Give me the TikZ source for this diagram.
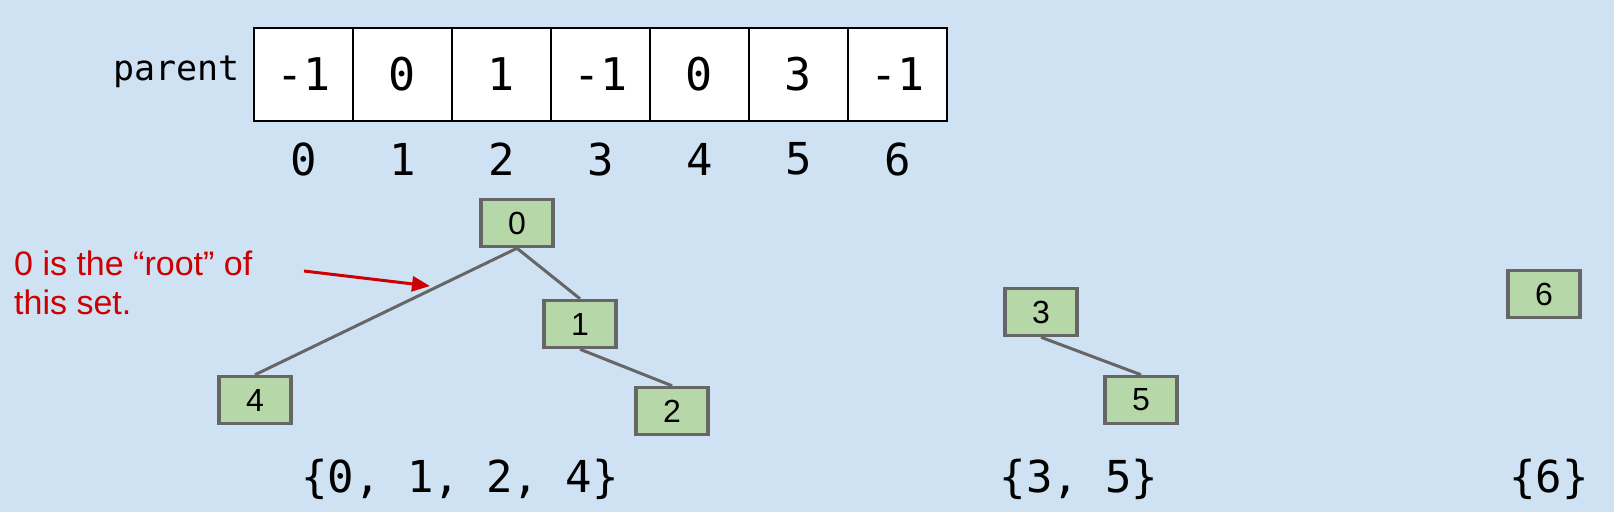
\documentclass[tikz,border=0pt]{standalone}
\usepackage{fontspec}
\setmainfont{Liberation Sans}
\newfontfamily\monofnt{DejaVu Sans Mono}
\usetikzlibrary{arrows.meta}
\definecolor{bgc}{HTML}{CFE2F3}
\definecolor{nodefill}{HTML}{B6D7A8}
\definecolor{edgec}{HTML}{666666}
\definecolor{redc}{HTML}{CC0000}
\begin{document}
\begin{tikzpicture}[x=1pt,y=-1pt,
  cell/.style={draw=black,line width=2pt,fill=white,minimum width=99pt,minimum height=93pt,inner sep=0pt,font=\monofnt\fontsize{45pt}{50pt}\selectfont},
  idx/.style={inner sep=0pt,font=\monofnt\fontsize{44pt}{50pt}\selectfont},
  treenode/.style={draw=edgec,fill=nodefill,line width=3.5pt,minimum width=72pt,minimum height=47pt,inner sep=0pt,font=\fontsize{32pt}{36pt}\selectfont},
  tedge/.style={draw=edgec,line width=3pt},
  setlabel/.style={inner sep=0pt,font=\monofnt\fontsize{44pt}{50pt}\selectfont}
]
\fill[bgc] (0,0) rectangle (1614,512);
\useasboundingbox (0,0) rectangle (1614,512);
% array
\node[inner sep=0pt,anchor=east,font=\monofnt\fontsize{35pt}{40pt}\selectfont] (plabel) at (240,72) {parent};
\foreach \v [count=\i from 0] in {-1,0,1,-1,0,3,-1}{
  \node[cell] (c\i) at ({254+99*(\i+0.5)},74.5) {\v};
  \node[idx] (i\i) at ({254+99*(\i+0.5)},159) {\i};
}
% trees
\node[treenode] (n0) at (517,223) {0};
\node[treenode] (n1) at (580,324) {1};
\node[treenode] (n4) at (255,400) {4};
\node[treenode] (n2) at (672,411) {2};
\node[treenode] (n3) at (1041,312) {3};
\node[treenode] (n5) at (1141,400) {5};
\node[treenode] (n6) at (1544,294) {6};
\draw[tedge] (n0.south) -- (n4.north);
\draw[tedge] (n0.south) -- (n1.north);
\draw[tedge] (n1.south) -- (n2.north);
\draw[tedge] (n3.south) -- (n5.north);
% annotation
\node[inner sep=0pt,anchor=north west,align=left,text=redc,font=\fontsize{34pt}{39pt}\selectfont] (note) at (14,251) {0 is the “root” of\\this set.};
\coordinate (as) at (304,271);
\coordinate (ae) at (430,286);
\draw[redc,line width=3pt,-{Triangle[length=18pt,width=15pt]}] (as) -- (ae);
% set labels
\node[setlabel] (s1) at (460,479) {\{0, 1, 2, 4\}};
\node[setlabel] (s2) at (1079,479) {\{3, 5\}};
\node[setlabel] (s3) at (1549,479) {\{6\}};
\end{tikzpicture}
\end{document}
